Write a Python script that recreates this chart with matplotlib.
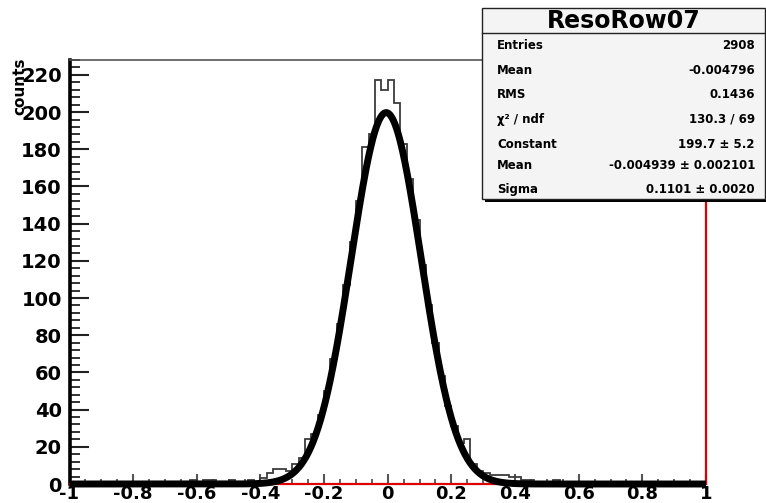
import numpy as np
import matplotlib
matplotlib.use("Agg")
import matplotlib.pyplot as plt
from matplotlib.ticker import MultipleLocator, FixedLocator, FixedFormatter
from matplotlib.patches import Rectangle
from matplotlib.lines import Line2D

plt.rcParams["font.family"] = ["DejaVu Sans"]
plt.rcParams["font.weight"] = "bold"

# Histogram binning
N_BINS = 100
X_LO, X_HI = -1.0, 1.0

# Residual counts per bin (bin width 0.02, from -1 to 1)
counts = [
    0, 0, 0, 0, 0, 0, 0, 0, 0, 0,
    0, 0, 0, 0, 0, 0, 1, 0, 1, 2,
    1, 2, 2, 1, 1, 2, 1, 1, 2, 1,
    3, 6, 8, 8, 7, 11, 14, 24, 27, 37,
    50, 67, 86, 107, 130, 152, 181, 188, 217, 212,
    217, 205, 183, 164, 142, 118, 96, 76, 58, 42,
    31, 22, 24, 11, 7, 6, 5, 5, 5, 4,
    4, 2, 2, 1, 0, 1, 2, 1, 0, 1,
    0, 1, 0, 0, 0, 0, 0, 0, 0, 0,
    0, 0, 0, 0, 0, 0, 0, 0, 0, 0,
]

# Gaussian fit parameters
fit_constant = 199.7
fit_mean = -0.004939
fit_sigma = 0.1101

# Statistics box content
stats_title = "ResoRow07"
stats_labels = ["Entries", "Mean", "RMS", "\u03c7\u00b2 / ndf", "Constant", "Mean", "Sigma"]
stats_values = ["2908", "-0.004796", "0.1436", "130.3 / 69",
                "199.7 \u00b1 5.2", "-0.004939 \u00b1 0.002101", "0.1101 \u00b1 0.0020"]

x_ticks = [-1, -0.8, -0.6, -0.4, -0.2, 0, 0.2, 0.4, 0.6, 0.8, 1]
x_tick_labels = ["-1", "-0.8", "-0.6", "-0.4", "-0.2", "0", "0.2", "0.4", "0.6", "0.8", "1"]
y_ticks = list(range(0, 221, 20))
Y_MAX = 228

W, H = 766, 503
fig = plt.figure(figsize=(W / 100, H / 100), dpi=100)
ax = fig.add_axes([69.5 / W, 1 - 484 / H, (706 - 69.5) / W, (484 - 60) / H])

edges = np.linspace(X_LO, X_HI, N_BINS + 1)
ax.stairs(counts, edges, color="#3c3c3c", lw=1.3, zorder=3)

xf = np.linspace(X_LO, X_HI, 800)
yf = fit_constant * np.exp(-0.5 * ((xf - fit_mean) / fit_sigma) ** 2)
ax.plot(xf, yf, color="black", lw=5.0, zorder=4, clip_on=False, solid_capstyle="butt")

ax.set_xlim(X_LO, X_HI)
ax.set_ylim(0, Y_MAX)

ax.xaxis.set_major_locator(FixedLocator(x_ticks))
ax.xaxis.set_major_formatter(FixedFormatter(x_tick_labels))
ax.xaxis.set_minor_locator(MultipleLocator(0.05))
ax.yaxis.set_major_locator(FixedLocator(y_ticks))
ax.yaxis.set_minor_locator(MultipleLocator(4))

ax.tick_params(axis="x", which="major", direction="in", length=7, width=1.5,
               color="#555555", labelsize=13, pad=0.5)
ax.tick_params(axis="x", which="minor", direction="in", length=3.6, width=1.3,
               color="#555555")
ax.tick_params(axis="y", which="major", direction="in", length=13.5, width=1.5,
               color="#222222", labelsize=14, pad=5.5)
ax.tick_params(axis="y", which="minor", direction="in", length=7, width=1.3,
               color="#222222")
for lab in ax.get_xticklabels() + ax.get_yticklabels():
    lab.set_fontweight("bold")

ax.spines["left"].set_color("black")
ax.spines["left"].set_linewidth(2.6)
ax.spines["bottom"].set_color("#dd0000")
ax.spines["bottom"].set_linewidth(1.6)
ax.spines["right"].set_color("#dd0000")
ax.spines["right"].set_linewidth(1.6)
ax.spines["top"].set_color("#555555")
ax.spines["top"].set_linewidth(1.2)

fig.text(20 / W, 1 - 86 / H, "counts", rotation=90, ha="center", va="center",
         fontsize=11, fontweight="bold")

# Statistics box with shadow
bx0, by0, bx1, by1 = 482, 8, 765, 199
fig.add_artist(Rectangle(((bx0 + 3) / W, 1 - (by1 + 3) / H), (bx1 - bx0) / W, (by1 - by0) / H,
                         transform=fig.transFigure, facecolor="black", edgecolor="none", zorder=10))
fig.add_artist(Rectangle((bx0 / W, 1 - by1 / H), (bx1 - bx0) / W, (by1 - by0) / H,
                         transform=fig.transFigure, facecolor="#f4f4f4", edgecolor="#222222",
                         lw=1.0, zorder=11))
fig.add_artist(Line2D([bx0 / W, bx1 / W], [1 - 33 / H, 1 - 33 / H], transform=fig.transFigure,
                      color="#222222", lw=1.0, zorder=12))
fig.text((bx0 + bx1) / 2 / W, 1 - 21 / H, stats_title, ha="center", va="center",
         fontsize=17, fontweight="bold", zorder=13)
row_y = [45.7, 70, 95, 119.3, 144, 165.7, 189.3]
for lbl, val, ry in zip(stats_labels, stats_values, row_y):
    fig.text(497 / W, 1 - ry / H, lbl, ha="left", va="center", fontsize=8.5,
             fontweight="bold", zorder=13)
    fig.text(755 / W, 1 - ry / H, val, ha="right", va="center", fontsize=8.5,
             fontweight="bold", zorder=13)

fig.savefig("out.png", dpi=100, facecolor="white")
